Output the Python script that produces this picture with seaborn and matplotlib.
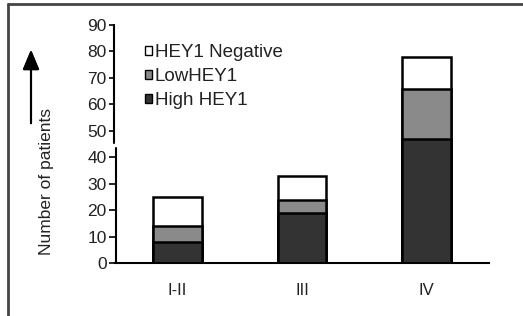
import matplotlib
matplotlib.use("Agg")
import matplotlib.pyplot as plt
import seaborn as sns
import numpy as np
import pandas as pd
from matplotlib.patches import Patch
from matplotlib.lines import Line2D

categories = ["I-II", "III", "IV"]
high_hey1 = [8, 19, 47]
low_hey1 = [6, 5, 19]
neg_hey1 = [11, 9, 12]
yticks = [0, 10, 20, 30, 40, 50, 60, 70, 80, 90]

sns.set_style("white")
plt.rcParams["font.family"] = ["Liberation Sans", "DejaVu Sans"]

high = np.array(high_hey1)
low_c = high + np.array(low_hey1)
tot = low_c + np.array(neg_hey1)

df = pd.DataFrame({"stage": categories, "high": high, "low": low_c, "tot": tot})

fig = plt.figure(figsize=(5.23, 3.16), dpi=100)
ax = fig.add_axes([115/523, 1-263.3/316, (489-115)/523, (263.3-25)/316])

bw = 0.39
lw = 1.8
sns.barplot(data=df, x="stage", y="tot", color="white", edgecolor="black", linewidth=lw, width=bw, saturation=1, ax=ax)
sns.barplot(data=df, x="stage", y="low", color="#8a8a8a", edgecolor="black", linewidth=lw, width=bw, saturation=1, ax=ax)
sns.barplot(data=df, x="stage", y="high", color="#333333", edgecolor="black", linewidth=lw, width=bw, saturation=1, ax=ax)

ax.set_xlim(-0.5, 2.5)
ax.set_ylim(0, 90)
ax.set_xlabel("")
ax.set_ylabel("")
ax.set_yticks(yticks)
ax.set_yticklabels([str(v) for v in yticks], fontsize=12.5, color="#222222")
ax.set_xticks(range(len(categories)))
ax.set_xticklabels(categories, fontsize=12, color="#222222")
ax.set_xticks([-0.5, 0.5, 1.5, 2.5], minor=True)
ax.tick_params(axis="x", which="major", length=0, pad=14)
ax.tick_params(axis="x", which="minor", length=4, width=1.2, direction="out", color="black")
ax.tick_params(axis="y", which="major", length=4, width=1.2, direction="out", color="black", pad=2, left=True)

for s in ["top", "right", "left"]:
    ax.spines[s].set_visible(False)
ax.spines["bottom"].set_linewidth(1.5)
ax.spines["bottom"].set_color("black")

# broken y axis line
tr = ax.get_yaxis_transform()
ax.plot([-0.002, -0.002], [45.4, 90], color="black", lw=1.5, transform=tr, clip_on=False)
ax.plot([0.002, 0.002], [0, 43.6], color="black", lw=1.5, transform=tr, clip_on=False)

handles = [
    Patch(facecolor="white", edgecolor="black", linewidth=1, label="HEY1 Negative"),
    Patch(facecolor="#8a8a8a", edgecolor="black", linewidth=1, label="LowHEY1"),
    Patch(facecolor="#333333", edgecolor="black", linewidth=1, label="High HEY1"),
]
ax.legend(handles=handles, loc="upper left", bbox_to_anchor=(145/523, 1-44/316),
          bbox_transform=fig.transFigure, frameon=False, fontsize=13.5,
          handlelength=0.37, handleheight=0.37, handletextpad=0.15, labelspacing=0.38,
          borderaxespad=0, borderpad=0, labelcolor="#222222")

fig.text(47/523, 1-181/316, "Number of patients", rotation=90, ha="center", va="center",
         fontsize=12.5, color="#222222")
fig.add_artist(plt.annotate("", xy=(31/523, 1-47/316), xytext=(31/523, 1-126/316),
                            xycoords="figure fraction", textcoords="figure fraction",
                            arrowprops=dict(arrowstyle="-|>,head_length=1.2,head_width=0.5",
                                            color="black", lw=1.5)))

# image frame (top and left edges)
fig.add_artist(Line2D([8/523, 1], [1-4/316, 1-4/316], color="#444444", lw=2, transform=fig.transFigure))
fig.add_artist(Line2D([8/523, 8/523], [0, 1-4/316], color="#444444", lw=2, transform=fig.transFigure))

fig.savefig("out.png", dpi=100)
